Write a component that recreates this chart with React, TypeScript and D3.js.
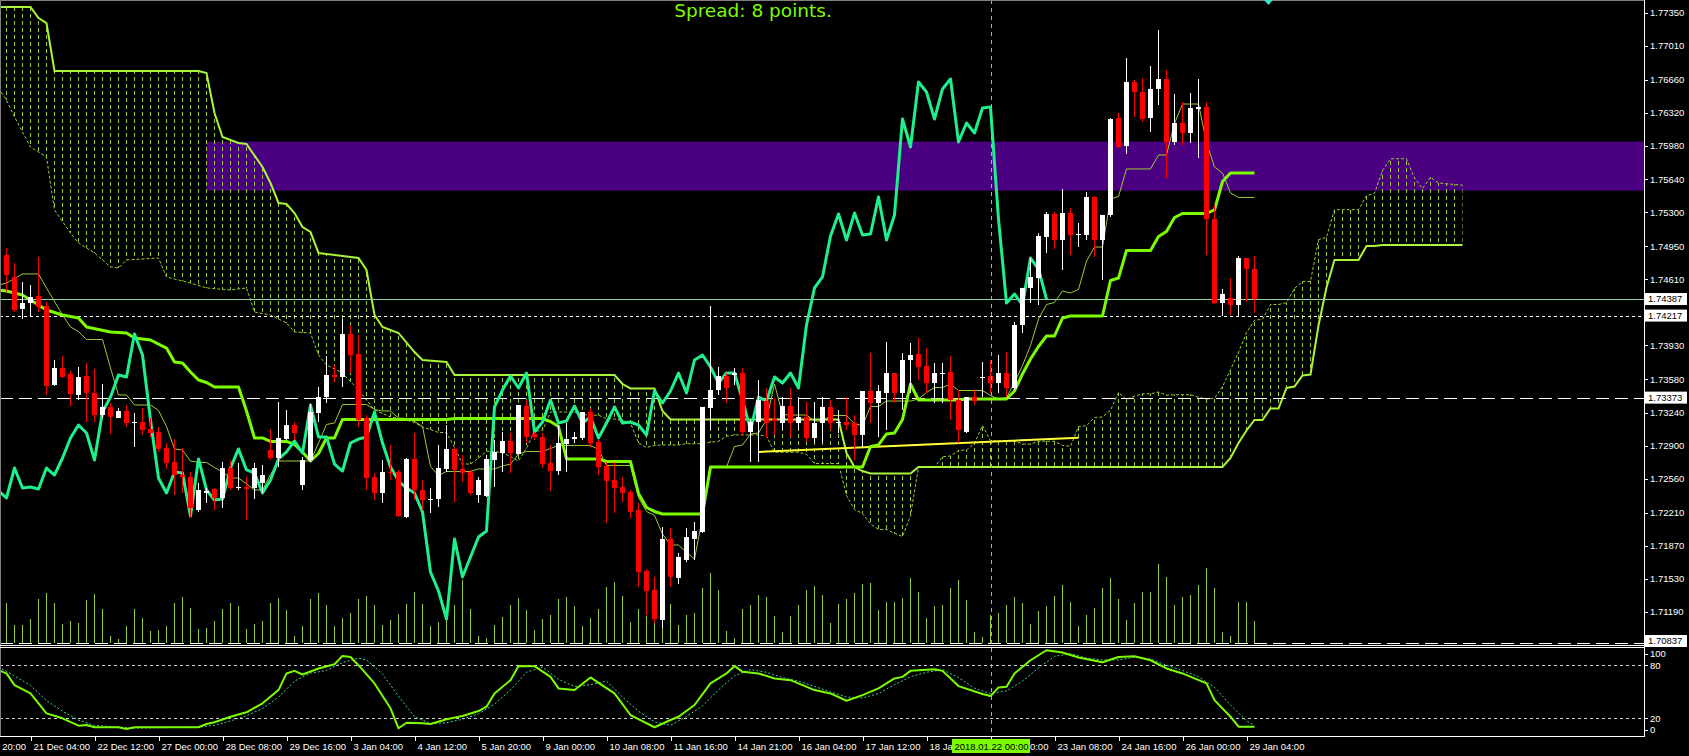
import React, { useEffect } from "react";
import * as d3 from "d3";

// ---------- price data (H4 bars, index 0..156) ----------
const highs = [1.74912,1.74758,1.74562,1.74531,1.74819,1.74357,1.73760,1.73801,1.73647,1.73688,
1.73729,1.73667,1.73513,1.73318,1.73266,1.73297,1.73215,1.73266,1.73163,1.73071,
1.72906,1.72947,1.72855,1.72608,1.72495,1.72443,1.72443,1.72711,1.72731,1.72701,
1.72557,1.72701,1.72680,1.73050,1.73328,1.73246,1.73122,1.72762,1.73307,1.73482,
1.73801,1.73709,1.74182,1.74120,1.74017,1.73194,1.72598,1.72731,1.72886,1.72629,
1.72752,1.73009,1.72526,1.72443,1.72886,1.73091,1.72865,1.72783,1.72629,1.72557,
1.72783,1.72937,1.73019,1.73009,1.73297,1.73349,1.73019,1.73009,1.72886,1.73091,
1.73112,1.73019,1.73225,1.73266,1.72937,1.72711,1.72711,1.72557,1.72423,1.72289,
1.71610,1.71528,1.72042,1.72032,1.71775,1.72032,1.72094,1.73277,1.74315,1.73688,
1.73626,1.73678,1.73678,1.73143,1.73554,1.73472,1.73369,1.73379,1.73472,1.73379,
1.73328,1.73328,1.73379,1.73349,1.73246,1.73379,1.73194,1.73441,1.73832,1.73503,
1.73945,1.73626,1.73832,1.73935,1.73986,1.73883,1.73729,1.73729,1.73801,1.73451,
1.73379,1.73451,1.73739,1.73760,1.73811,1.73842,1.74151,1.74501,1.74809,1.75066,
1.75282,1.75282,1.75519,1.75324,1.75169,1.75488,1.75447,1.75252,1.76249,1.76301,
1.76866,1.76640,1.76661,1.76784,1.77154,1.76743,1.76496,1.76414,1.76506,1.76650,
1.76414,1.75354,1.74490,1.74603,1.74830,1.74809,1.74830];

const opens = [1.74840,1.74614,1.74285,1.74346,1.74418,1.74315,1.73503,1.73678,1.73616,1.73400,
1.73595,1.73421,1.73194,1.73277,1.73163,1.73235,1.73112,1.73122,1.73050,1.73019,
1.72855,1.72711,1.72577,1.72557,1.72217,1.72392,1.72433,1.72341,1.72649,1.72443,
1.72454,1.72443,1.72495,1.72834,1.72752,1.72947,1.73091,1.72474,1.72731,1.73215,
1.73379,1.73606,1.73585,1.74027,1.73822,1.73163,1.72557,1.72392,1.72608,1.72608,
1.72145,1.72742,1.72423,1.72320,1.72330,1.72639,1.72845,1.72639,1.72608,1.72371,
1.72361,1.72731,1.72803,1.72927,1.72793,1.73287,1.72999,1.72968,1.72701,1.72618,
1.72896,1.72947,1.72958,1.73225,1.72917,1.72670,1.72526,1.72454,1.72402,1.72217,
1.71590,1.71394,1.71086,1.71919,1.71518,1.71703,1.71919,1.71991,1.73266,1.73451,
1.73595,1.73606,1.73626,1.73019,1.73122,1.73338,1.73153,1.73112,1.73287,1.73112,
1.73174,1.72958,1.73112,1.73277,1.73112,1.73122,1.73112,1.72989,1.73441,1.73318,
1.73421,1.73626,1.73421,1.73760,1.73822,1.73698,1.73523,1.73616,1.73637,1.73349,
1.73019,1.73379,1.73575,1.73595,1.73523,1.73626,1.73472,1.74120,1.74501,1.74603,
1.75025,1.75262,1.74994,1.75272,1.75046,1.75046,1.75437,1.74994,1.75252,1.76249,
1.75961,1.76620,1.76517,1.76249,1.76548,1.76650,1.76002,1.76198,1.76095,1.76342,
1.76362,1.75210,1.74346,1.74398,1.74326,1.74809,1.74696];

const closes = [1.74634,1.74274,1.74346,1.74408,1.74305,1.73493,1.73678,1.73585,1.73410,1.73585,
1.73421,1.73194,1.73277,1.73174,1.73235,1.73112,1.73122,1.73040,1.73009,1.72845,
1.72701,1.72577,1.72557,1.72238,1.72423,1.72413,1.72341,1.72649,1.72443,1.72454,
1.72433,1.72649,1.72577,1.72752,1.72958,1.73091,1.73009,1.72731,1.73225,1.73379,
1.73606,1.73585,1.74027,1.73811,1.73143,1.72546,1.72392,1.72608,1.72598,1.72155,
1.72742,1.72423,1.72320,1.72330,1.72649,1.72845,1.72629,1.72598,1.72392,1.72526,
1.72742,1.72814,1.72927,1.72803,1.73297,1.72968,1.72968,1.72690,1.72618,1.72906,
1.72947,1.72968,1.73225,1.72906,1.72659,1.72515,1.72443,1.72392,1.72197,1.71579,
1.71384,1.71096,1.71919,1.71528,1.71734,1.71939,1.72001,1.73277,1.73451,1.73595,
1.73472,1.73626,1.73019,1.73122,1.73349,1.73112,1.73133,1.73287,1.73112,1.73174,
1.72958,1.73112,1.73277,1.73112,1.73122,1.73091,1.72989,1.73441,1.73318,1.73441,
1.73626,1.73421,1.73760,1.73811,1.73688,1.73523,1.73626,1.73626,1.73349,1.73040,
1.73379,1.73338,1.73585,1.73523,1.73626,1.73472,1.74120,1.74501,1.74614,1.75036,
1.75262,1.74994,1.75272,1.75046,1.75056,1.75437,1.74994,1.75252,1.76239,1.75951,
1.76620,1.76517,1.76239,1.76548,1.76650,1.76002,1.76198,1.76095,1.76352,1.76362,
1.75210,1.74346,1.74439,1.74326,1.74809,1.74696,1.74387];

const lows = [1.74459,1.74254,1.74182,1.74202,1.74254,1.73400,1.73493,1.73575,1.73287,1.73349,
1.73122,1.73122,1.73163,1.72999,1.73163,1.73071,1.72865,1.72989,1.72968,1.72814,
1.72639,1.72371,1.72392,1.72145,1.72197,1.72289,1.72217,1.72238,1.72423,1.72423,
1.72114,1.72330,1.72392,1.72731,1.72659,1.72937,1.72937,1.72423,1.72711,1.73122,
1.73318,1.73534,1.73482,1.73626,1.73071,1.72423,1.72320,1.72289,1.72526,1.72145,
1.72135,1.72320,1.72217,1.72186,1.72248,1.72608,1.72299,1.72505,1.72371,1.72289,
1.72351,1.72454,1.72608,1.72598,1.72783,1.72906,1.72937,1.72649,1.72413,1.72577,
1.72608,1.72906,1.72937,1.72865,1.72577,1.72083,1.72186,1.72299,1.72135,1.71425,
1.71137,1.71055,1.71003,1.71425,1.71456,1.71682,1.71703,1.71981,1.73040,1.73400,
1.73318,1.73503,1.72989,1.72711,1.72711,1.72958,1.72989,1.73040,1.72968,1.73040,
1.72917,1.72906,1.72906,1.73040,1.73009,1.73040,1.72731,1.72865,1.73112,1.72968,
1.73040,1.73318,1.73246,1.73421,1.73554,1.73421,1.73318,1.73318,1.73143,1.72906,
1.73009,1.73297,1.73379,1.73421,1.73421,1.73379,1.73451,1.74038,1.74346,1.74326,
1.74861,1.74902,1.74686,1.74840,1.74922,1.74994,1.74819,1.74583,1.75231,1.75941,
1.75879,1.76260,1.76208,1.76105,1.76383,1.75632,1.75972,1.75972,1.75992,1.75838,
1.74840,1.74336,1.74213,1.74223,1.74213,1.74357,1.74243];

const volumes = [4000,1800,1800,2400,4400,5000,4000,1900,2200,2000,
4300,4900,3400,700,400,1700,3400,2500,1200,1300,
1700,4000,4600,3500,1400,1500,2200,3400,4000,3700,
1400,1900,2200,4000,4500,3300,700,1700,4400,5000,
3800,1700,2500,3000,4400,4700,3800,1800,2300,2900,
3900,5100,3900,1700,2100,3000,3800,6300,3400,700,
500,1800,2600,3800,4500,3300,1300,2400,2800,4400,
4600,3700,1700,2500,3400,5600,6100,4700,2100,3400,
2700,2000,3000,3900,1800,2800,3000,5500,7000,5300,
1200,500,3400,3800,4800,4600,2700,1100,2700,3800,
5300,5700,4800,2000,3900,4400,5000,5900,6000,3300,
4100,4100,4500,6500,5100,2500,3700,3800,5500,6300,
4300,1100,600,2800,3000,3800,4600,4000,1900,3200,
3700,4700,5800,4100,1700,2800,3500,5500,6500,4400,
2300,4000,5100,5100,7900,6600,3800,4600,4800,5800,
7500,5500,1100,700,4100,4100,2200];

// ---------- Ichimoku lines: [bar index, price] ----------
const tenkan = [[-1,1.74531],[0,1.74552],[2,1.74645],[4,1.74645],[5,1.74501],[7,1.74223],[8,1.74099],[9,1.74053],[10,1.73971],[12,1.73971],[13,1.73678],[14,1.73400],[15,1.73400],[16,1.73297],[18,1.73297],[19,1.73241],[20,1.73076],[21,1.72845],[22,1.72834],[23,1.72721],[24,1.72706],[25,1.72706],[26,1.72654],[27,1.72608],[28,1.72546],[29,1.72546],[30,1.72485],[31,1.72423],[32,1.72423],[33,1.72582],[34,1.72721],[38,1.72721],[39,1.72906],[40,1.73097],[41,1.73112],[42,1.73302],[45,1.73302],[46,1.73251],[47,1.73235],[48,1.73235],[49,1.73163],[50,1.73158],[51,1.73127],[52,1.73076],[53,1.72665],[54,1.72572],[55,1.72613],[58,1.72613],[59,1.72639],[61,1.72639],[62,1.72670],[63,1.72690],[64,1.72793],[65,1.72819],[67,1.72819],[68,1.72850],[69,1.72881],[73,1.72881],[74,1.72839],[75,1.72675],[78,1.72675],[79,1.72346],[80,1.72202],[81,1.72161],[82,1.71970],[83,1.71857],[84,1.71857],[85,1.71780],[86,1.71713],[87,1.72140],[88,1.72659],[90,1.72659],[91,1.72870],[92,1.72886],[93,1.72999],[94,1.73009],[95,1.73148],[96,1.73513],[97,1.73199],[98,1.73194],[100,1.73194],[101,1.73133],[102,1.73133],[103,1.73189],[105,1.73189],[106,1.73102],[107,1.73086],[108,1.73282],[109,1.73282],[110,1.73338],[113,1.73338],[114,1.73359],[115,1.73426],[116,1.73477],[117,1.73477],[118,1.73513],[119,1.73446],[122,1.73446],[123,1.73395],[124,1.73359],[125,1.73374],[126,1.73529],[127,1.73703],[128,1.73909],[129,1.74182],[130,1.74331],[131,1.74351],[132,1.74470],[133,1.74449],[134,1.74485],[135,1.74778],[136,1.74922],[137,1.74922],[138,1.75416],[139,1.75442],[140,1.75725],[143,1.75725],[144,1.75869],[145,1.75869],[146,1.76193],[147,1.76393],[149,1.76393],[150,1.75997],[151,1.75745],[152,1.75684],[153,1.75478],[154,1.75432],[156,1.75432]];

const kijun = [[-1,1.74480],[0,1.74470],[2,1.74429],[5,1.74274],[7,1.74223],[9,1.74192],[10,1.74099],[13,1.74048],[15,1.74038],[16,1.73986],[18,1.73966],[20,1.73883],[21,1.73739],[22,1.73729],[23,1.73637],[24,1.73554],[25,1.73529],[26,1.73482],[29,1.73482],[30,1.73235],[31,1.72958],[32,1.72958],[33,1.72922],[35,1.72922],[36,1.72891],[37,1.72814],[38,1.72721],[39,1.72798],[40,1.72958],[41,1.72958],[42,1.73148],[55,1.73148],[56,1.73158],[67,1.73158],[68,1.73127],[69,1.73076],[70,1.72742],[74,1.72742],[75,1.72716],[78,1.72716],[79,1.72387],[80,1.72243],[81,1.72202],[82,1.72176],[87,1.72176],[88,1.72659],[107,1.72659],[108,1.72870],[109,1.72886],[110,1.72999],[111,1.73009],[112,1.73148],[113,1.73513],[114,1.73349],[119,1.73349],[120,1.73359],[125,1.73359],[126,1.73441],[127,1.73616],[128,1.73770],[129,1.73899],[130,1.74007],[131,1.74007],[132,1.74192],[133,1.74213],[137,1.74213],[138,1.74578],[139,1.74603],[140,1.74886],[143,1.74886],[144,1.75030],[145,1.75082],[146,1.75226],[147,1.75267],[150,1.75267],[151,1.75303],[152,1.75596],[153,1.75684],[156,1.75684]];

const spanA = [[-1,1.76558],[0,1.76434],[1,1.76260],[3,1.75951],[5,1.75848],[6,1.75303],[8,1.75066],[9,1.74964],[11,1.74861],[13,1.74717],[14,1.74706],[15,1.74789],[19,1.74809],[20,1.74614],[23,1.74552],[25,1.74501],[28,1.74480],[30,1.74501],[31,1.74254],[33,1.74223],[35,1.74141],[36,1.74048],[38,1.74038],[39,1.73811],[40,1.73709],[42,1.73626],[44,1.73451],[46,1.73246],[48,1.73174],[50,1.73143],[51,1.73117],[52,1.73068],[53,1.73045],[54,1.73014],[55,1.73014],[56,1.72860],[57,1.72690],[58,1.72690],[59,1.72752],[60,1.72821],[61,1.72821],[62,1.72806],[63,1.72767],[64,1.72721],[65,1.72852],[66,1.73027],[67,1.73035],[68,1.73225],[71,1.73225],[72,1.73199],[73,1.73192],[74,1.73192],[75,1.73156],[76,1.73153],[77,1.73138],[78,1.73112],[79,1.72906],[80,1.72860],[81,1.72881],[82,1.72886],[84,1.72886],[85,1.72899],[87,1.72899],[88,1.72914],[89,1.72924],[90,1.72976],[91,1.72989],[94,1.72989],[95,1.72978],[96,1.72811],[99,1.72811],[100,1.72791],[101,1.72695],[104,1.72695],[105,1.72366],[106,1.72222],[107,1.72181],[108,1.72073],[109,1.72017],[110,1.72017],[111,1.71978],[112,1.71945],[113,1.72158],[114,1.72659],[116,1.72659],[117,1.72765],[118,1.72773],[119,1.72829],[120,1.72834],[121,1.72904],[122,1.73086],[123,1.72930],[124,1.72927],[126,1.72927],[127,1.72896],[128,1.72896],[129,1.72924],[131,1.72924],[132,1.72881],[133,1.72873],[134,1.73076],[135,1.73084],[136,1.73169],[137,1.73174],[138,1.73243],[139,1.73426],[140,1.73354],[141,1.73387],[142,1.73413],[143,1.73413],[144,1.73431],[145,1.73398],[146,1.73403],[148,1.73403],[149,1.73377],[150,1.73359],[151,1.73367],[152,1.73485],[153,1.73660],[154,1.73840],[155,1.74040],[156,1.74169],[157,1.74179],[158,1.74331],[159,1.74331],[160,1.74349],[161,1.74496],[162,1.74568],[163,1.74568],[164,1.74997],[165,1.75023],[166,1.75306],[169,1.75306],[170,1.75450],[171,1.75475],[172,1.75709],[173,1.75830],[175,1.75830],[176,1.75632],[177,1.75524],[178,1.75640],[179,1.75581],[182,1.75558]];

const spanB = [[-1,1.77391],[3,1.77391],[4,1.77278],[5,1.77226],[6,1.76733],[24,1.76733],[25,1.76712],[26,1.76301],[27,1.76054],[29,1.75992],[30,1.75982],[32,1.75745],[33,1.75581],[34,1.75375],[35,1.75365],[36,1.75272],[37,1.75128],[38,1.75077],[39,1.74861],[44,1.74809],[45,1.74686],[46,1.74223],[47,1.74099],[49,1.74038],[51,1.73842],[52,1.73760],[55,1.73739],[56,1.73606],[76,1.73606],[77,1.73513],[78,1.73467],[81,1.73467],[82,1.73235],[83,1.73148],[104,1.73148],[105,1.72803],[106,1.72659],[107,1.72618],[108,1.72593],[113,1.72593],[114,1.72659],[152,1.72659],[153,1.72752],[154,1.72906],[155,1.73035],[156,1.73143],[157,1.73143],[158,1.73261],[159,1.73261],[160,1.73472],[161,1.73487],[162,1.73601],[163,1.73611],[164,1.74115],[165,1.74506],[166,1.74789],[169,1.74789],[170,1.74933],[171,1.74933],[172,1.74943],[182,1.74943]];

// ---------- Stochastic: [bar index, value] ----------
const stochMain = [[-1,74.4],[0,70.7],[1,57.5],[3,48.1],[5,25.6],[7,20],[9,11.7],[10,12.5],[11,9.9],[14,9.9],[15,8],[16,9.9],[24,9.9],[25,13.6],[26,15.5],[28,21.8],[30,26.8],[32,36.9],[34,51.9],[35,70.7],[36,73.6],[37,69.5],[39,76.3],[41,81.1],[42,90.5],[43,89.3],[44,80],[46,59.4],[48,31.3],[49,8.7],[50,15],[52,14.4],[53,13.6],[55,18.9],[57,22.6],[59,28.2],[60,33.1],[61,48.1],[63,63.1],[64,79.2],[66,78.9],[68,66.8],[69,53.8],[71,51.9],[73,66.2],[74,60.1],[76,48.1],[78,23.7],[81,9.9],[83,18.1],[84,21.8],[86,35],[88,59.4],[90,70.7],[91,79.2],[92,72.5],[94,70.7],[96,65],[98,63.1],[101,51.9],[103,48.1],[105,39.8],[107,46.2],[109,53.8],[111,65],[112,66.8],[113,73.6],[116,75.5],[117,73.6],[119,56.4],[122,47.4],[123,45.1],[124,54.9],[125,55.6],[126,70.7],[128,85.6],[130,96.9],[132,94.3],[134,88.7],[137,83.4],[139,89.3],[141,90.1],[143,85.6],[145,76.3],[147,70.7],[150,59.4],[151,40.6],[153,21.8],[154,10.5],[156,10.5]];

const stochSignal = [[-1,78],[1,68],[3,57],[5,40],[7,28],[9,18],[11,12],[14,10],[16,9],[24,10],[26,12],[28,17],[30,23],[32,31],[34,44],[36,62],[38,71],[40,74],[42,83],[44,88],[45,86],[47,70],[49,45],[51,22],[53,14],[55,15],[57,19],[59,25],[61,36],[63,52],[65,72],[67,78],[69,64],[71,56],[73,58],[75,62],[77,44],[79,28],[81,16],[83,12],[85,22],[87,34],[89,52],[91,68],[93,75],[95,72],[97,66],[99,62],[101,56],[103,50],[105,44],[107,43],[109,48],[111,58],[113,67],[115,72],[117,75],[119,66],[121,54],[123,48],[125,51],[127,62],[129,77],[131,90],[133,93],[135,88],[137,86],[139,86],[141,89],[143,87],[145,80],[147,74],[149,67],[151,55],[153,35],[155,17],[156,12]];

const stochLevels = [80, 20];
const stochLabels = [100, 80, 20, 0];

// ---------- axes ----------
const priceTicks = [1.7735,1.7701,1.7666,1.7632,1.7598,1.7564,1.7530,1.7495,1.7461,1.7393,1.7358,1.7324,1.7290,1.7256,1.7221,1.7187,1.7153,1.7119];
const timeTickBars = [-5,3,11,19,27,35,43,51,59,67,75,83,91,99,107,115,123,131,139,147,155];
const timeTickLabels = ["19 Dec 20:00","21 Dec 04:00","22 Dec 12:00","27 Dec 00:00","28 Dec 08:00","29 Dec 16:00","3 Jan 04:00","4 Jan 12:00","5 Jan 20:00","9 Jan 00:00","10 Jan 08:00","11 Jan 16:00","14 Jan 21:00","16 Jan 04:00","17 Jan 12:00","18 Jan 20:00","22 Jan 00:00","23 Jan 08:00","24 Jan 16:00","26 Jan 00:00","29 Jan 04:00"];

// ---------- objects ----------
const zoneStartBar = 25;
const zonePrices = [1.75502, 1.76006];
const trendLine = [[94, 1.72814], [134, 1.72961]];
const bidPrice = 1.74387;
const levelDotted = 1.74217;
const levelDashed = [1.73373, 1.70837];
const vlineBar = 123;
const vlineLabel = "2018.01.22 00:00";
const spreadText = "Spread: 8 points.";

const AX = "Liberation Sans, Arial, sans-serif";

export default function App() {
  useEffect(() => {
    document.body.style.margin = "0";
    document.body.style.background = "#000";
  }, []);

  const PR = 1644;
  const x = d3.scaleLinear().domain([0, 156]).range([6.5, 1254.5]);
  const y = d3.scaleLinear().domain([1.70849, 1.77463]).range([643, 0]);
  const vh = d3.scaleLinear().domain([0, 8000]).range([0, 80]);
  const ys = d3.scaleLinear().domain([0, 100]).range([736, 647.5]);

  const line = d3.line().x((d: any) => x(d[0])).y((d: any) => y(d[1]));
  const sline = d3.line().x((d: any) => x(d[0])).y((d: any) => ys(d[1]));

  const chikou = closes.slice(25).map((c, k) => [k - 1, c]);
  const cloud = (line(spanA as any) as string) + (line([...spanB].reverse() as any) as string).replace(/^M/, "L") + "Z";

  const hy = (p: number) => Math.round(y(p)) + 0.5;

  const box = (p: number, key: string, yc?: number) => {
    const cy = yc ?? y(p);
    return (
      <g key={key}>
        <rect x={1645} y={cy - 6} width={42} height={12} fill="#fff" />
        <text x={1648} y={cy} dy="0.35em" fontSize={9.5} fontFamily={AX} fill="#000">{p.toFixed(5)}</text>
      </g>
    );
  };

  const vx = Math.round(x(vlineBar)) + 0.5;

  return (
    <svg width={1689} height={756} style={{ position: "absolute", left: 0, top: 0, display: "block", background: "#000" }}>
      <defs>
        <clipPath id="mainClip"><rect x={0} y={0} width={PR} height={645} /></clipPath>
        <clipPath id="subClip"><rect x={0} y={648} width={PR} height={88} /></clipPath>
        <pattern id="hatch" patternUnits="userSpaceOnUse" x={0} y={0} width={8} height={7}>
          <line x1={6.5} x2={6.5} y1={0} y2={4} stroke="#9ACD32" strokeWidth={1} />
        </pattern>
      </defs>
      <rect x={0} y={0} width={1689} height={756} fill="#000" />

      <g clipPath="url(#mainClip)">
        <rect x={x(zoneStartBar)} y={y(zonePrices[1])} width={PR - x(zoneStartBar)} height={y(zonePrices[0]) - y(zonePrices[1])} fill="#4B0082" />
        <path d={cloud} fill="url(#hatch)" stroke="none" />
        <path d={line(spanA as any) as string} fill="none" stroke="#9ACD32" strokeWidth={1} strokeDasharray="3,2" />
        <path d={line(spanB as any) as string} fill="none" stroke="#A8F53A" strokeWidth={2} />
        {volumes.map((v, i) => (
          <line key={"v" + i} x1={x(i)} x2={x(i)} y1={643} y2={643 - vh(v)} stroke="#9ACD32" strokeWidth={1} />
        ))}
        <line x1={0} x2={PR} y1={hy(bidPrice)} y2={hy(bidPrice)} stroke="#8CD4A8" strokeWidth={1} />
        <line x1={0} x2={PR} y1={hy(levelDotted)} y2={hy(levelDotted)} stroke="#fff" strokeWidth={1} strokeDasharray="3,3" />
        {levelDashed.map((p, k) => (
          <line key={"ld" + k} x1={0} x2={PR} y1={Math.min(hy(p), 643.5)} y2={Math.min(hy(p), 643.5)} stroke="#fff" strokeWidth={1} strokeDasharray="13,6" />
        ))}
        <path d={line(trendLine as any) as string} stroke="#FFFF33" strokeWidth={2} fill="none" />
        <path d={line(tenkan as any) as string} fill="none" stroke="#9ACD32" strokeWidth={1} />
        <path d={line(kijun as any) as string} fill="none" stroke="#7CFC00" strokeWidth={3} strokeLinejoin="round" />
        <path d={line(chikou as any) as string} fill="none" stroke="#1EF08E" strokeWidth={3} strokeLinejoin="round" />
        {opens.map((o, i) => {
          const c = closes[i];
          const bull = c >= o;
          const col = bull ? "#FFFFFF" : "#FF0000";
          const cx = x(i);
          const yt = y(Math.max(o, c));
          const yb = y(Math.min(o, c));
          return (
            <g key={"c" + i}>
              <line x1={cx} x2={cx} y1={y(highs[i])} y2={y(lows[i])} stroke={col} strokeWidth={1} />
              <rect x={cx - 2.5} y={yt} width={5} height={Math.max(1, yb - yt)} fill={col} />
            </g>
          );
        })}
      </g>

      <g clipPath="url(#subClip)">
        {stochLevels.map((l) => (
          <line key={"sl" + l} x1={0} x2={PR} y1={Math.round(ys(l)) + 0.5} y2={Math.round(ys(l)) + 0.5} stroke="#D0D0D0" strokeWidth={1} strokeDasharray="3,3" />
        ))}
        <path d={sline(stochSignal as any) as string} fill="none" stroke="#3FD98F" strokeWidth={1} strokeDasharray="2,2" />
        <path d={sline(stochMain as any) as string} fill="none" stroke="#7CFC00" strokeWidth={2} strokeLinejoin="round" />
      </g>

      <line x1={vx} x2={vx} y1={0} y2={736} stroke="#9ACD32" strokeWidth={1} strokeDasharray="4,4" />

      <line x1={0} x2={PR} y1={0.5} y2={0.5} stroke="#808080" />
      <line x1={0.5} x2={0.5} y1={0} y2={736} stroke="#808080" />
      <line x1={0} x2={PR + 1} y1={645.5} y2={645.5} stroke="#fff" />
      <line x1={0} x2={PR + 1} y1={647.5} y2={647.5} stroke="#fff" />
      <line x1={0} x2={PR + 1} y1={736.5} y2={736.5} stroke="#fff" />
      <line x1={PR + 0.5} x2={PR + 0.5} y1={0} y2={737} stroke="#fff" />

      {priceTicks.map((p) => {
        const ty = y(p) + 2;
        return (
          <g key={"pt" + p}>
            <line x1={PR} x2={PR + 4} y1={Math.round(ty) + 0.5} y2={Math.round(ty) + 0.5} stroke="#fff" />
            <text x={1650} y={ty} dy="0.35em" fontSize={9.5} fontFamily={AX} fill="#fff">{p.toFixed(5)}</text>
          </g>
        );
      })}
      {box(bidPrice, "b1")}
      {box(levelDotted, "b2")}
      {box(levelDashed[0], "b3")}
      {box(levelDashed[1], "b4", 641)}

      {stochLabels.map((v) => {
        const ty = Math.min(Math.max(ys(v), 654), 730);
        return (
          <g key={"sa" + v}>
            <line x1={PR} x2={PR + 4} y1={Math.round(ty) + 0.5} y2={Math.round(ty) + 0.5} stroke="#fff" />
            <text x={1650} y={ty} dy="0.35em" fontSize={9.5} fontFamily={AX} fill="#fff">{v}</text>
          </g>
        );
      })}

      {timeTickBars.map((b, k) => {
        const tx = Math.round(x(b)) + 0.5;
        return (
          <g key={"tt" + k}>
            <line x1={tx} x2={tx} y1={736} y2={741} stroke="#fff" />
            <text x={tx + 2} y={750} fontSize={9.5} fontFamily={AX} fill="#fff">{timeTickLabels[k]}</text>
          </g>
        );
      })}
      <rect x={vx - 39.5} y={739} width={78} height={14} fill="#7CFC00" />
      <text x={vx} y={750} textAnchor="middle" fontSize={9.5} fontFamily={AX} fill="#000">{vlineLabel}</text>

      <polygon points="1264,0 1273,0 1268.5,5" fill="#40E0D0" />
      <text x={753} y={17} textAnchor="middle" fontSize={18.5} fontFamily="DejaVu Sans, sans-serif" fill="#7CFC00">{spreadText}</text>
    </svg>
  );
}
